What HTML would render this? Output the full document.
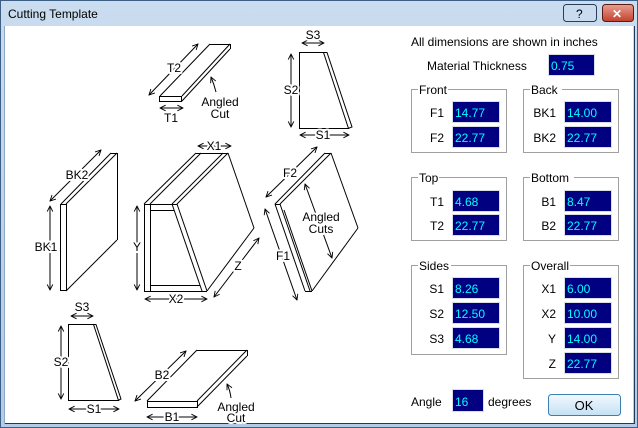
<!DOCTYPE html>
<html><head><meta charset="utf-8"><style>
html,body{margin:0;padding:0;width:638px;height:428px;overflow:hidden;background:#fff}
svg{display:block}
text{font-family:"Liberation Sans",sans-serif;font-size:12px;fill:#000}
.lb text{stroke:#fff;stroke-width:4px;paint-order:stroke;stroke-linejoin:round}
.v{fill:#00ffff}
</style></head><body>
<svg width="638" height="428" viewBox="0 0 638 428" xmlns="http://www.w3.org/2000/svg">
<defs>
<linearGradient id="tb" x1="0" y1="0" x2="0" y2="1"><stop offset="0" stop-color="#cadcef"/><stop offset="1" stop-color="#b3cbe6"/></linearGradient>
<linearGradient id="cl" x1="0" y1="0" x2="0" y2="1"><stop offset="0" stop-color="#e8a092"/><stop offset="1" stop-color="#c3402c"/></linearGradient>
<linearGradient id="ok" x1="0" y1="0" x2="0" y2="1"><stop offset="0" stop-color="#f2f8fd"/><stop offset="1" stop-color="#c4e1f5"/></linearGradient>
<marker id="a" viewBox="0 0 10 10" refX="9" refY="5" markerWidth="7" markerHeight="7" orient="auto-start-reverse" markerUnits="userSpaceOnUse"><path d="M1 1 L9 5 L1 9" fill="none" stroke="#000" stroke-width="1.3"/></marker>
</defs>
<rect x="0" y="0" width="638" height="428" fill="url(#tb)"/>
<rect x="0.5" y="0.5" width="637" height="427" fill="none" stroke="#3d5f86"/>
<text x="8" y="18">Cutting Template</text>
<rect x="563.5" y="4.5" width="33" height="17" rx="3" fill="#c8dbef" stroke="#2c3e55"/>
<text x="576" y="18" fill="#000">?</text>
<rect x="602.5" y="4.5" width="31" height="17" rx="3" fill="url(#cl)" stroke="#5a1a10"/>
<text x="612" y="18" style="fill:#fff;font-weight:bold">✕</text>
<rect x="5" y="26" width="628" height="397" fill="#fff"/>
<line x1="634.5" y1="26" x2="634.5" y2="424" stroke="#1b3a5c"/>
<line x1="5" y1="423.5" x2="635" y2="423.5" stroke="#1b3a5c"/>
<line x1="4.5" y1="26" x2="4.5" y2="424" stroke="#8aa8c8"/>

<g fill="none" stroke="#000" stroke-width="1">
<rect x="159.5" y="96.5" width="22" height="5"/>
<line x1="160" y1="96" x2="210" y2="44"/><line x1="182" y1="96" x2="230" y2="44"/><line x1="182" y1="101" x2="230" y2="49"/>
<line x1="210" y1="44.5" x2="230" y2="44.5"/><line x1="230.5" y1="44" x2="230.5" y2="49"/>
<line x1="149" y1="95" x2="198" y2="44" marker-start="url(#a)" marker-end="url(#a)"/>
<line x1="160" y1="108" x2="183" y2="108" marker-start="url(#a)" marker-end="url(#a)"/>
<path d="M216 92 Q214 84 211 77" marker-end="url(#a)"/>
<path d="M299.5 52.5 L323.5 52.5 L348.5 128.5 L299.5 128.5 Z"/>
<path d="M323 52.5 L327 52.5 L352 127 L348 128.5"/>
<line x1="302" y1="43" x2="324" y2="43" marker-start="url(#a)" marker-end="url(#a)"/>
<line x1="291" y1="54" x2="291" y2="127" marker-start="url(#a)" marker-end="url(#a)"/>
<line x1="300" y1="135" x2="349" y2="135" marker-start="url(#a)" marker-end="url(#a)"/>
<rect x="60.5" y="204.5" width="6" height="86"/>
<line x1="61" y1="204" x2="111" y2="153"/><line x1="66" y1="204" x2="117" y2="153"/>
<line x1="111" y1="153.5" x2="117" y2="153.5"/><line x1="117.5" y1="153" x2="117.5" y2="240"/><line x1="66" y1="291" x2="117" y2="240"/>
<line x1="50" y1="201" x2="101" y2="150" marker-start="url(#a)" marker-end="url(#a)"/>
<line x1="50" y1="206" x2="50" y2="290" marker-start="url(#a)" marker-end="url(#a)"/>
<line x1="144.5" y1="204" x2="144.5" y2="291"/><line x1="150.5" y1="204" x2="150.5" y2="291"/>
<line x1="144" y1="204.5" x2="177" y2="204.5"/><line x1="144" y1="291.5" x2="207" y2="291.5"/>
<line x1="150" y1="210.5" x2="174" y2="210.5"/><line x1="150" y1="285.5" x2="200" y2="285.5"/>
<line x1="172" y1="204" x2="202" y2="291"/><line x1="177" y1="204" x2="207" y2="291"/>
<line x1="144" y1="204" x2="196" y2="153"/><line x1="150" y1="204" x2="201" y2="153"/>
<line x1="172" y1="204" x2="223" y2="153"/><line x1="177" y1="204" x2="228" y2="153"/>
<line x1="196" y1="153.5" x2="228" y2="153.5"/>
<line x1="228" y1="153" x2="254" y2="228"/><line x1="207" y1="291" x2="254" y2="228"/>
<line x1="198" y1="146" x2="231" y2="146" marker-start="url(#a)" marker-end="url(#a)"/>
<line x1="137" y1="206" x2="137" y2="290" marker-start="url(#a)" marker-end="url(#a)"/>
<line x1="145" y1="299" x2="207" y2="299" marker-start="url(#a)" marker-end="url(#a)"/>
<line x1="214" y1="297" x2="259" y2="238" marker-start="url(#a)" marker-end="url(#a)"/>
<line x1="275" y1="204" x2="305" y2="291"/><line x1="280" y1="204" x2="310" y2="291"/><line x1="284" y1="210" x2="312" y2="291"/>
<line x1="275" y1="204.5" x2="280" y2="204.5"/><line x1="305" y1="291.5" x2="312" y2="291.5"/>
<line x1="275" y1="204" x2="325" y2="153"/><line x1="280" y1="204" x2="331" y2="153"/>
<line x1="325" y1="153.5" x2="331" y2="153.5"/>
<line x1="331" y1="153" x2="358" y2="228"/><line x1="312" y1="291" x2="358" y2="228"/>
<line x1="266" y1="197" x2="317" y2="147" marker-start="url(#a)" marker-end="url(#a)"/>
<line x1="265" y1="209" x2="297" y2="300" marker-start="url(#a)" marker-end="url(#a)"/>
<line x1="305" y1="184" x2="332" y2="258" marker-start="url(#a)" marker-end="url(#a)"/>
<path d="M68.5 324.5 L93.5 324.5 L118.5 400.5 L68.5 400.5 Z"/>
<path d="M93 324.5 L96 324.5 L121 399 L118 400.5"/>
<line x1="71" y1="316" x2="93" y2="316" marker-start="url(#a)" marker-end="url(#a)"/>
<line x1="61" y1="326" x2="61" y2="399" marker-start="url(#a)" marker-end="url(#a)"/>
<line x1="69" y1="409" x2="119" y2="409" marker-start="url(#a)" marker-end="url(#a)"/>
<rect x="147.5" y="401.5" width="50" height="6"/>
<line x1="147" y1="401" x2="197" y2="350"/><line x1="197" y1="401" x2="247" y2="350"/><line x1="197" y1="407" x2="247" y2="356"/>
<line x1="197" y1="350.5" x2="247" y2="350.5"/><line x1="247.5" y1="350" x2="247.5" y2="356"/>
<line x1="135" y1="401" x2="186" y2="351" marker-start="url(#a)" marker-end="url(#a)"/>
<line x1="147" y1="417" x2="197" y2="417" marker-start="url(#a)" marker-end="url(#a)"/>
<path d="M231 398 Q230 390 227 384" marker-end="url(#a)"/>
</g>
<g class="lb" text-anchor="middle">
<text x="174" y="72">T2</text><text x="171" y="122">T1</text>
<text x="220" y="106">Angled</text><text x="220" y="118">Cut</text>
<text x="313" y="39">S3</text><text x="291" y="94">S2</text><text x="323" y="139">S1</text>
<text x="77" y="179">BK2</text><text x="46" y="251">BK1</text>
<text x="214" y="150">X1</text><text x="137" y="251">Y</text><text x="176" y="303">X2</text><text x="238" y="270">Z</text>
<text x="290" y="177">F2</text><text x="283" y="260">F1</text>
<text x="321" y="221">Angled</text><text x="321" y="233">Cuts</text>
<text x="82" y="311">S3</text><text x="61" y="366">S2</text><text x="94" y="413">S1</text>
<text x="162" y="379">B2</text><text x="172" y="421">B1</text>
<text x="236" y="411">Angled</text><text x="236" y="422">Cut</text>
</g>

<text x="411" y="46">All dimensions are shown in inches</text>
<text x="427" y="70">Material Thickness</text>
<g stroke="#d9dee6" fill="#000080">
<rect x="548.5" y="54.5" width="46" height="21"/>
<rect x="452.5" y="101.5" width="47" height="21"/><rect x="452.5" y="126.5" width="47" height="21"/>
<rect x="564.5" y="101.5" width="47" height="21"/><rect x="564.5" y="126.5" width="47" height="21"/>
<rect x="452.5" y="190.5" width="47" height="21"/><rect x="452.5" y="214.5" width="47" height="21"/>
<rect x="564.5" y="190.5" width="47" height="21"/><rect x="564.5" y="214.5" width="47" height="21"/>
<rect x="452.5" y="277.5" width="47" height="21"/><rect x="452.5" y="302.5" width="47" height="21"/><rect x="452.5" y="327.5" width="47" height="21"/>
<rect x="564.5" y="277.5" width="47" height="21"/><rect x="564.5" y="302.5" width="47" height="21"/><rect x="564.5" y="327.5" width="47" height="21"/><rect x="564.5" y="352.5" width="47" height="21"/>
<rect x="452.5" y="389.5" width="31" height="22"/>
</g>
<g fill="none" stroke="#a0a0a0">
<path d="M418 89.5 H411.5 V152.5 H506.5 V89.5 H448"/>
<path d="M530 89.5 H523.5 V152.5 H618.5 V89.5 H562"/>
<path d="M418 177.5 H411.5 V240.5 H506.5 V177.5 H439"/>
<path d="M530 177.5 H523.5 V240.5 H618.5 V177.5 H574"/>
<path d="M418 265.5 H411.5 V354.5 H506.5 V265.5 H451"/>
<path d="M530 265.5 H523.5 V378.5 H618.5 V265.5 H570"/>
</g>
<text x="419" y="94">Front</text><text x="531" y="94">Back</text>
<text x="419" y="182">Top</text><text x="531" y="182">Bottom</text>
<text x="419" y="270">Sides</text><text x="531" y="270">Overall</text>
<g text-anchor="end">
<text x="444" y="117">F1</text><text x="444" y="142">F2</text>
<text x="556" y="117">BK1</text><text x="556" y="142">BK2</text>
<text x="444" y="206">T1</text><text x="444" y="230">T2</text>
<text x="556" y="206">B1</text><text x="556" y="230">B2</text>
<text x="444" y="293">S1</text><text x="444" y="318">S2</text><text x="444" y="343">S3</text>
<text x="556" y="293">X1</text><text x="556" y="318">X2</text><text x="556" y="343">Y</text><text x="556" y="368">Z</text>
</g>
<g>
<text class="v" x="551" y="70">0.75</text>
<text class="v" x="455" y="117">14.77</text><text class="v" x="455" y="142">22.77</text>
<text class="v" x="567" y="117">14.00</text><text class="v" x="567" y="142">22.77</text>
<text class="v" x="455" y="206">4.68</text><text class="v" x="455" y="230">22.77</text>
<text class="v" x="567" y="206">8.47</text><text class="v" x="567" y="230">22.77</text>
<text class="v" x="455" y="293">8.26</text><text class="v" x="455" y="318">12.50</text><text class="v" x="455" y="343">4.68</text>
<text class="v" x="567" y="293">6.00</text><text class="v" x="567" y="318">10.00</text><text class="v" x="567" y="343">14.00</text><text class="v" x="567" y="368">22.77</text>
<text class="v" x="455" y="406">16</text>
</g>
<text x="411" y="406">Angle</text><text x="488" y="406">degrees</text>
<rect x="548.5" y="394.5" width="72" height="21" rx="3" fill="url(#ok)" stroke="#3c7fb1"/>
<text x="584" y="410" text-anchor="middle" style="font-size:13px">OK</text>
</svg>
</body></html>
